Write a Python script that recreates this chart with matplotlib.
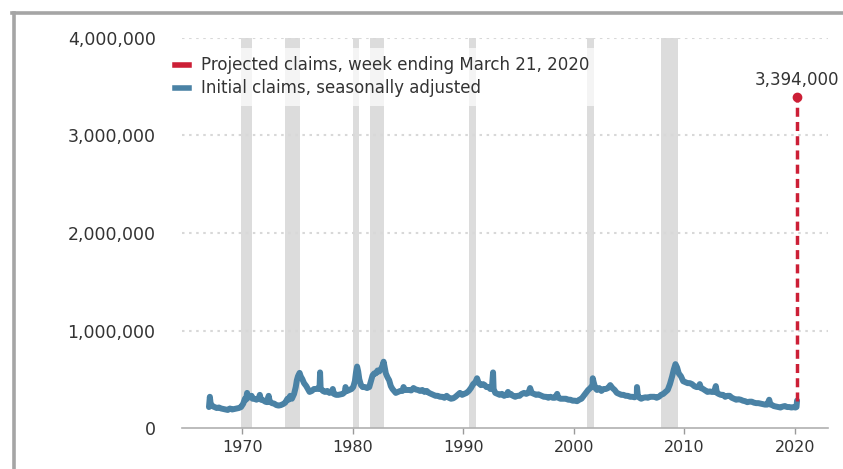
import matplotlib
matplotlib.use("Agg")
import matplotlib.pyplot as plt
from matplotlib.lines import Line2D
from matplotlib.ticker import FuncFormatter

plt.rcParams['font.family'] = ['DejaVu Sans']

# ---- data (thousands of claims) ----
years = [
    1967.0, 1967.08, 1967.15, 1967.3, 1967.5, 1967.7, 1967.9,
    1968.1, 1968.3, 1968.5, 1968.7, 1968.9,
    1969.1, 1969.3, 1969.5, 1969.7, 1969.9,
    1970.1, 1970.25, 1970.35, 1970.45, 1970.55, 1970.7, 1970.85, 1970.95,
    1971.1, 1971.3, 1971.5, 1971.6, 1971.7, 1971.9,
    1972.1, 1972.25, 1972.4, 1972.5, 1972.7, 1972.9,
    1973.1, 1973.3, 1973.5, 1973.7, 1973.9,
    1974.1, 1974.2, 1974.35, 1974.5, 1974.7, 1974.85, 1974.95,
    1975.05, 1975.2, 1975.3, 1975.45, 1975.6, 1975.8, 1975.95,
    1976.1, 1976.3, 1976.5, 1976.7, 1976.9,
    1977.0, 1977.05, 1977.1, 1977.3, 1977.5, 1977.7, 1977.9,
    1978.1, 1978.2, 1978.3, 1978.5, 1978.7, 1978.9,
    1979.1, 1979.3, 1979.35, 1979.5, 1979.7, 1979.9,
    1980.05, 1980.2, 1980.3, 1980.4, 1980.5, 1980.6, 1980.75, 1980.9,
    1981.1, 1981.3, 1981.5, 1981.65, 1981.8, 1981.95,
    1982.1, 1982.25, 1982.4, 1982.55, 1982.7, 1982.8, 1982.9,
    1983.0, 1983.15, 1983.3, 1983.45, 1983.6, 1983.75, 1983.9,
    1984.1, 1984.3, 1984.5, 1984.6, 1984.75, 1984.9,
    1985.1, 1985.3, 1985.5, 1985.7, 1985.9,
    1986.1, 1986.3, 1986.5, 1986.7, 1986.9,
    1987.1, 1987.3, 1987.5, 1987.7, 1987.9,
    1988.1, 1988.3, 1988.5, 1988.7, 1988.9,
    1989.1, 1989.3, 1989.5, 1989.7, 1989.9,
    1990.1, 1990.3, 1990.5, 1990.7, 1990.9,
    1991.1, 1991.25, 1991.4, 1991.6, 1991.8, 1991.95,
    1992.1, 1992.3, 1992.45, 1992.6, 1992.7, 1992.75, 1992.9,
    1993.1, 1993.3, 1993.5, 1993.7, 1993.9,
    1994.05, 1994.1, 1994.3, 1994.5, 1994.7, 1994.9,
    1995.1, 1995.3, 1995.5, 1995.7, 1995.9,
    1996.05, 1996.2, 1996.4, 1996.6, 1996.8,
    1997.1, 1997.3, 1997.5, 1997.7, 1997.9,
    1998.1, 1998.3, 1998.5, 1998.6, 1998.8,
    1999.1, 1999.3, 1999.5, 1999.7, 1999.9,
    2000.1, 2000.3, 2000.5, 2000.7, 2000.9,
    2001.1, 2001.3, 2001.5, 2001.7, 2001.72, 2001.8, 2001.95,
    2002.1, 2002.3, 2002.5, 2002.7, 2002.9,
    2003.1, 2003.3, 2003.5, 2003.7, 2003.9,
    2004.1, 2004.3, 2004.5, 2004.7, 2004.9,
    2005.1, 2005.3, 2005.5, 2005.7, 2005.72, 2005.8, 2005.95,
    2006.1, 2006.3, 2006.5, 2006.7, 2006.9,
    2007.1, 2007.3, 2007.5, 2007.7, 2007.9,
    2008.1, 2008.3, 2008.5, 2008.7, 2008.9,
    2009.05, 2009.2, 2009.35, 2009.5, 2009.7, 2009.9,
    2010.1, 2010.3, 2010.5, 2010.7, 2010.9,
    2011.1, 2011.3, 2011.4, 2011.5, 2011.7, 2011.9,
    2012.1, 2012.3, 2012.5, 2012.7, 2012.85, 2012.95,
    2013.1, 2013.3, 2013.5, 2013.7, 2013.9,
    2014.1, 2014.3, 2014.5, 2014.7, 2014.9,
    2015.1, 2015.3, 2015.5, 2015.7, 2015.9,
    2016.1, 2016.3, 2016.5, 2016.7, 2016.9,
    2017.1, 2017.3, 2017.5, 2017.68, 2017.8, 2017.95,
    2018.1, 2018.3, 2018.5, 2018.7, 2018.9,
    2019.1, 2019.3, 2019.5, 2019.7, 2019.9,
    2020.05, 2020.15, 2020.2,
]
claims_k = [
    215, 320, 250, 225, 215, 205, 210,
    200, 195, 190, 185, 200,
    190, 195, 200, 205, 215,
    250, 300, 290, 360, 310, 320, 330, 300,
    300, 290, 305, 340, 290, 285,
    270, 265, 330, 270, 255, 250,
    235, 230, 235, 245, 260,
    300, 290, 330, 300, 350, 420, 490,
    530, 565, 530, 500, 460, 430, 400,
    370, 380, 400, 400, 410,
    400, 570, 410, 380, 370, 380, 360,
    370, 400, 350, 340, 340, 345,
    350, 370, 420, 380, 390, 400,
    420, 480, 570, 630, 580, 500, 440, 420,
    420, 410, 420, 480, 540, 560,
    560, 590, 580, 600, 640, 680, 620,
    560, 520, 490, 430, 400, 380, 360,
    370, 380, 380, 420, 390, 390,
    390, 385, 410, 395, 390,
    380, 390, 370, 380, 360,
    350, 340, 330, 330, 320,
    320, 310, 330, 310, 300,
    305, 320, 340, 360, 340,
    350, 360, 380, 410, 450,
    470, 510, 460, 440, 450, 440,
    420, 420, 400, 420, 570, 400, 360,
    350, 340, 350, 330, 340,
    370, 340, 350, 330, 320, 330,
    330, 350, 360, 350, 360,
    410, 360, 350, 340, 345,
    330, 320, 320, 310, 320,
    310, 310, 350, 310, 300,
    300, 300, 290, 290, 280,
    280, 275, 290, 300, 330,
    360, 390, 410, 440, 510, 470, 410,
    390, 410, 380, 400, 400,
    410, 440, 410, 390, 360,
    350, 340, 340, 330, 330,
    320, 320, 315, 330, 420, 330, 310,
    300, 310, 315, 310, 320,
    320, 320, 310, 320, 340,
    350, 370, 390, 450, 530,
    600, 655, 620, 560, 530, 480,
    470, 460, 460, 450, 430,
    420, 420, 450, 410, 400, 385,
    370, 375, 370, 370, 430, 360,
    350, 340, 340, 320, 330,
    330, 310, 300, 290, 295,
    290, 280, 275, 265, 270,
    270, 260, 255, 255, 250,
    245, 240, 240, 290, 240, 235,
    225, 220, 215, 210, 220,
    225, 215, 215, 210, 215,
    210, 215, 281,
]
claims = [v * 1000 for v in claims_k]

projected_year = 2020.2
projected_start = 281000
projected_value = 3394000

recessions = [
    (1969.92, 1970.87),
    (1973.87, 1975.2),
    (1980.0, 1980.54),
    (1981.54, 1982.87),
    (1990.54, 1991.2),
    (2001.2, 2001.87),
    (2007.92, 2009.46),
]

y_ticks = [0, 1000000, 2000000, 3000000, 4000000]
x_ticks = [1970, 1980, 1990, 2000, 2010, 2020]

blue = "#4a82a5"
red = "#cc1f36"
text_col = "#333333"

fig = plt.figure(figsize=(8.43, 4.69), dpi=100)
ax = fig.add_axes([182 / 843, 41 / 469, 646 / 843, 390 / 469])

for s, e in recessions:
    ax.axvspan(s, e, ymin=0, ymax=1, color="#dcdcdc", lw=0, zorder=0)

for yv in y_ticks[1:]:
    ax.axhline(yv, color="#d8d8d8", lw=1.5, ls=(0, (1.2, 2.2)), zorder=1)

ax.plot(years, claims, color=blue, lw=4.3, solid_joinstyle="round",
        solid_capstyle="round", zorder=3)

ax.plot([projected_year, projected_year], [projected_start, projected_value],
        color=red, lw=2.5, dashes=(2.6, 1.5), zorder=4)
ax.plot([projected_year], [projected_value], "o", color=red, ms=6, zorder=5,
        clip_on=False)
ax.annotate(f"{projected_value:,}", (projected_year, projected_value),
            xytext=(0, 5.5), textcoords="offset points", ha="center", va="bottom",
            fontsize=12, color=text_col, annotation_clip=False)

ax.set_xlim(1964.56, 2023.0)
ax.set_ylim(0, 4000000)
ax.set_xticks(x_ticks)
ax.set_yticks(y_ticks)
ax.yaxis.set_major_formatter(FuncFormatter(lambda v, p: f"{int(v):,}"))
ax.tick_params(axis="y", length=0, pad=19, labelsize=12.5, labelcolor=text_col)
ax.tick_params(axis="x", length=4.5, width=1, color="#9a9a9a", pad=4,
               labelsize=11.5, labelcolor=text_col)
for sp in ["top", "right", "left"]:
    ax.spines[sp].set_visible(False)
ax.spines["bottom"].set_color("#b0b0b0")
ax.spines["bottom"].set_linewidth(1.2)

handles = [
    Line2D([], [], color=red, lw=4),
    Line2D([], [], color=blue, lw=4),
]
labels = ["Projected claims, week ending March 21, 2020",
          "Initial claims, seasonally adjusted"]
leg = ax.legend(handles, labels, loc="upper left",
                bbox_to_anchor=(-0.0245, 0.974), frameon=True, framealpha=0.7,
                edgecolor="none", facecolor="white", fontsize=12,
                handlelength=0.85, handletextpad=0.75, labelspacing=0.3,
                borderpad=0.5, borderaxespad=0)
for t in leg.get_texts():
    t.set_color(text_col)
leg.set_zorder(6)

# outer frame (top and left)
fig.add_artist(Line2D([13.5 / 843, 13.5 / 843], [0, (469 - 13) / 469],
                      transform=fig.transFigure, color="#a5a5a5", lw=2.6))
fig.add_artist(Line2D([12 / 843, 1], [(469 - 13.5) / 469, (469 - 13.5) / 469],
                      transform=fig.transFigure, color="#a5a5a5", lw=2.6))

fig.savefig("out.png", dpi=100)
